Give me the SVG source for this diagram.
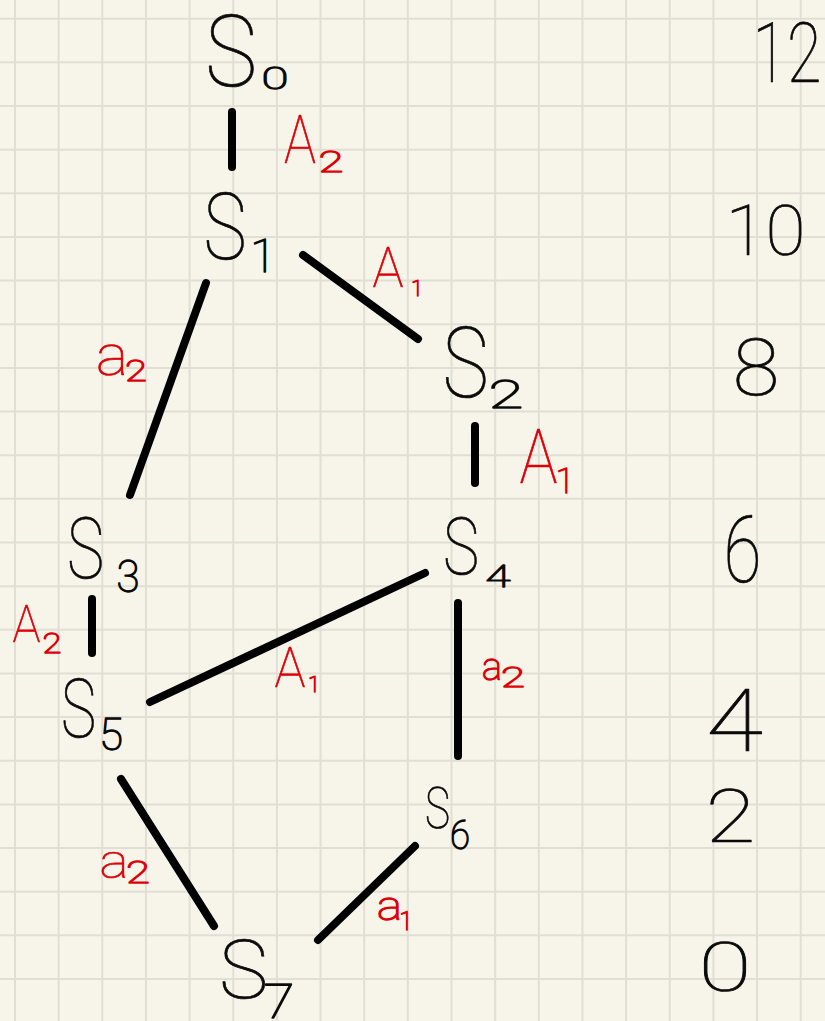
<svg xmlns="http://www.w3.org/2000/svg" width="825" height="1021" viewBox="0 0 825 1021">
<style>
.grid{stroke:#dfdfd3;stroke-width:2;fill:none}
.edge{stroke:#000;stroke-width:8;stroke-linecap:round;fill:none}
.t{font-family:Roboto,"DejaVu Sans",sans-serif;font-weight:100;text-anchor:middle;fill:#0a0a0a;stroke:#0a0a0a;stroke-width:0.7;stroke-linejoin:round}
.s{stroke-width:1.3}
.r{fill:#dd0008;stroke:#dd0008}
</style>
<rect width="825" height="1021" fill="#f7f5ea"/>
<path class="grid" d="M15 0V1021M58.65 0V1021M102.3 0V1021M145.95 0V1021M189.6 0V1021M233.25 0V1021M276.9 0V1021M320.55 0V1021M364.2 0V1021M407.85 0V1021M451.5 0V1021M495.15 0V1021M538.8 0V1021M582.45 0V1021M626.1 0V1021M669.75 0V1021M713.4 0V1021M757.05 0V1021M800.7 0V1021M0 18.7H825M0 62.35H825M0 106H825M0 149.65H825M0 193.3H825M0 236.95H825M0 280.6H825M0 324.25H825M0 367.9H825M0 411.55H825M0 455.2H825M0 498.85H825M0 542.5H825M0 586.15H825M0 629.8H825M0 673.45H825M0 717.1H825M0 760.75H825M0 804.4H825M0 848.05H825M0 891.7H825M0 935.35H825M0 979H825"/>
<g id="connectors">
<line class="edge" x1="232" y1="112" x2="232" y2="167"/>
<line class="edge" x1="303" y1="255" x2="418" y2="339"/>
<line class="edge" x1="206" y1="283" x2="130" y2="495"/>
<line class="edge" x1="475" y1="426" x2="475" y2="483"/>
<line class="edge" x1="92" y1="599" x2="92" y2="653"/>
<line class="edge" x1="150" y1="702" x2="425" y2="573"/>
<line class="edge" x1="458" y1="603" x2="458" y2="756"/>
<line class="edge" x1="121" y1="779" x2="214" y2="926"/>
<line class="edge" x1="318" y1="940" x2="415" y2="846"/>
</g>
<g id="S0"><text class="t" x="231" y="86" font-size="100" textLength="52" lengthAdjust="spacingAndGlyphs">S</text><text class="t s" x="275" y="89" font-size="32" textLength="27" lengthAdjust="spacingAndGlyphs">0</text></g>
<g id="S1"><text class="t" x="225" y="259" font-size="92" textLength="43" lengthAdjust="spacingAndGlyphs">S</text><text class="t s" x="263" y="272" font-size="47">1</text></g>
<g id="S2"><text class="t" x="465.5" y="397" font-size="98" textLength="46" lengthAdjust="spacingAndGlyphs">S</text><text class="t s" x="506" y="408" font-size="39" textLength="35" lengthAdjust="spacingAndGlyphs">2</text></g>
<g id="S3"><text class="t" x="85.5" y="578" font-size="86" textLength="37" lengthAdjust="spacingAndGlyphs">S</text><text class="t s" x="128" y="592" font-size="44" textLength="23" lengthAdjust="spacingAndGlyphs">3</text></g>
<g id="S4"><text class="t" x="461" y="574" font-size="80" textLength="36" lengthAdjust="spacingAndGlyphs">S</text><text class="t s" x="498" y="587" font-size="31" textLength="25" lengthAdjust="spacingAndGlyphs">4</text></g>
<g id="S5"><text class="t" x="78.5" y="737" font-size="81" textLength="35" lengthAdjust="spacingAndGlyphs">S</text><text class="t s" x="111" y="750" font-size="45" textLength="24" lengthAdjust="spacingAndGlyphs">5</text></g>
<g id="S6"><text class="t" x="437.5" y="828" font-size="58" textLength="25" lengthAdjust="spacingAndGlyphs">S</text><text class="t s" x="460" y="849" font-size="40" textLength="20" lengthAdjust="spacingAndGlyphs">6</text></g>
<g id="S7"><text class="t" x="243.5" y="998" font-size="81" textLength="49" lengthAdjust="spacingAndGlyphs">S</text><text class="t s" x="279" y="1018" font-size="48" textLength="31" lengthAdjust="spacingAndGlyphs">7</text></g>
<g id="edge-labels">
<text class="t r" x="300" y="163" font-size="66" textLength="32" lengthAdjust="spacingAndGlyphs">A</text><text class="t s r" x="331" y="172" font-size="30" textLength="25" lengthAdjust="spacingAndGlyphs">2</text>
<text class="t r" x="388" y="287" font-size="55" textLength="31" lengthAdjust="spacingAndGlyphs">A</text><text class="t s r" x="417" y="296" font-size="22">1</text>
<text class="t r" x="112" y="375" font-size="57" textLength="32" lengthAdjust="spacingAndGlyphs">a</text><text class="t s r" x="136" y="381" font-size="30" textLength="22" lengthAdjust="spacingAndGlyphs">2</text>
<text class="t r" x="538.5" y="483" font-size="76" textLength="38" lengthAdjust="spacingAndGlyphs">A</text><text class="t s r" x="565" y="493" font-size="35">1</text>
<text class="t r" x="26.5" y="642" font-size="52" textLength="28" lengthAdjust="spacingAndGlyphs">A</text><text class="t s r" x="52" y="653" font-size="28" textLength="19" lengthAdjust="spacingAndGlyphs">2</text>
<text class="t r" x="290" y="687" font-size="56" textLength="31" lengthAdjust="spacingAndGlyphs">A</text><text class="t s r" x="314" y="692" font-size="22">1</text>
<text class="t s r" x="492" y="680" font-size="38" textLength="20" lengthAdjust="spacingAndGlyphs">a</text><text class="t s r" x="513" y="687" font-size="28" textLength="24" lengthAdjust="spacingAndGlyphs">2</text>
<text class="t r" x="114" y="878" font-size="49" textLength="29" lengthAdjust="spacingAndGlyphs">a</text><text class="t s r" x="138" y="883" font-size="32" textLength="24" lengthAdjust="spacingAndGlyphs">2</text>
<text class="t s r" x="389.5" y="920" font-size="40" textLength="25" lengthAdjust="spacingAndGlyphs">a</text><text class="t s r" x="406" y="930" font-size="25">1</text>
</g>
<g id="levels">
<text class="t" x="787" y="82" font-size="84" textLength="69" lengthAdjust="spacingAndGlyphs">12</text>
<text class="t" x="765.5" y="255" font-size="70" textLength="80" lengthAdjust="spacingAndGlyphs">10</text>
<text class="t" x="756" y="395" font-size="80" textLength="47" lengthAdjust="spacingAndGlyphs">8</text>
<text class="t" x="742.5" y="582" font-size="93" textLength="38" lengthAdjust="spacingAndGlyphs">6</text>
<text class="t" x="734.5" y="751" font-size="88" textLength="57" lengthAdjust="spacingAndGlyphs">4</text>
<text class="t" x="730.5" y="842" font-size="75" textLength="50" lengthAdjust="spacingAndGlyphs">2</text>
<text class="t" x="725" y="991" font-size="68" textLength="53" lengthAdjust="spacingAndGlyphs">0</text>
</g>
</svg>
